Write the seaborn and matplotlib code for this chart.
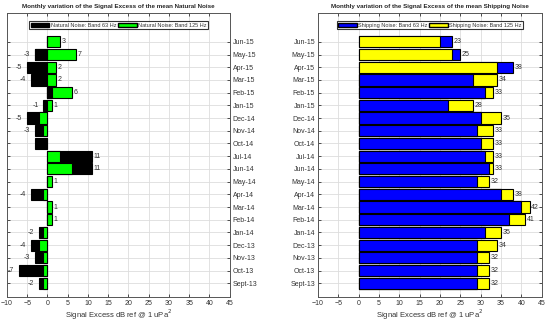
import numpy as np
import pandas as pd
import seaborn as sns
import matplotlib.pyplot as plt
from matplotlib.patches import Patch

# months listed top -> bottom as in the chart
months = ["Jun-15", "May-15", "Apr-15", "Mar-15", "Feb-15", "Jan-15", "Dec-14",
          "Nov-14", "Oct-14", "Jul-14", "Jun-14", "May-14", "Apr-14", "Mar-14",
          "Feb-14", "Jan-14", "Dec-13", "Nov-13", "Oct-13", "Sept-13"]

natural_63 = [0, -3, -5, -4, 1, -1, -5, -3, -3, 11, 11, 0, -4, 0, 0, -2, -4, -3, -7, -2]
natural_125 = [3, 7, 2, 2, 6, 1, -2, -1, 0, 3, 6, 1, -1, 1, 1, -1, -2, -1, -1, -1]
natural_lo_labels = [None, -3, -5, -4, None, -1, -5, -3, None, None, None, None, -4,
                     None, None, -2, -4, -3, -7, -2]
natural_hi_labels = [3, 7, 2, 2, 6, 1, None, None, None, 11, 11, 1, None, 1, 1,
                     None, None, None, None, None]

shipping_63 = [23, 25, 38, 28, 31, 22, 30, 29, 30, 31, 32, 29, 35, 40, 37, 31, 29, 29, 29, 29]
shipping_125 = [20, 23, 34, 34, 33, 28, 35, 33, 33, 33, 33, 32, 38, 42, 41, 35, 34, 32, 32, 32]
shipping_labels = [23, 25, 38, 34, 33, 28, 35, 33, 33, 33, 33, 32, 38, 42, 41, 35, 34, 32, 32, 32]

sns.set_style("whitegrid")
plt.rcParams['font.family'] = ['Liberation Sans', 'DejaVu Sans']

fig = plt.figure(figsize=(5.5, 3.23), dpi=100)
ax1 = fig.add_axes([0.0127, 0.0805, 0.405, 0.879])
ax2 = fig.add_axes([0.578, 0.0805, 0.407, 0.879])

text_col = "#333333"
bar_w = 0.88


def draw_panel(ax, v63, v125, c63, c125):
    df = pd.DataFrame({"month": months, "b63": v63, "b125": v125})
    kw = dict(y="month", order=months, orient="h", width=bar_w, edgecolor="black",
              linewidth=0.8, errorbar=None, ax=ax)
    sns.barplot(data=df, x="b63", color=c63, saturation=1, **kw)
    sns.barplot(data=df, x="b125", color=c125, saturation=1, **kw)
    # the shorter bar sits on top
    front = df[df["b63"].abs() < df["b125"].abs()]
    sns.barplot(data=front, x="b63", color=c63, saturation=1, **kw)


def style_axes(ax, title, ticks_right):
    ax.set_xlim(-10, 45)
    ax.set_ylim(20.08, -2.26)
    ax.set_xticks(np.arange(-10, 46, 5))
    ax.set_axisbelow(True)
    ax.grid(True, color="#dddddd", linewidth=0.6)
    ax.tick_params(axis="both", direction="in", length=2.5, width=0.6,
                   labelsize=5, colors=text_col, top=True, bottom=True,
                   left=True, right=True, pad=2)
    if ticks_right:
        ax.yaxis.tick_right()
        ax.tick_params(axis="y", left=True, right=True, direction="in", length=2.5)
    for s in ax.spines.values():
        s.set_color("#555555")
        s.set_linewidth(0.7)
    ax.set_ylabel("")
    ax.set_xlabel("Signal Excess dB ref @ 1 uPa$^2$", fontsize=5.5, color=text_col, labelpad=0.8)
    ax.set_title(title, fontsize=4.5, fontweight="bold", pad=3.5)


draw_panel(ax1, natural_63, natural_125, "black", "#00ff00")
draw_panel(ax2, shipping_63, shipping_125, "#0000ff", "#ffff00")

for i, (lo, hi) in enumerate(zip(natural_lo_labels, natural_hi_labels)):
    if lo is not None:
        ax1.text(lo - 1.2, i, str(lo), ha="right", va="center", fontsize=5, color=text_col)
    if hi is not None:
        ax1.text(hi + 0.4, i, str(hi), ha="left", va="center", fontsize=5, color=text_col)

for i, lab in enumerate(shipping_labels):
    top = max(shipping_63[i], shipping_125[i])
    ax2.text(top + 0.4, i, str(lab), ha="left", va="center", fontsize=5, color=text_col)

style_axes(ax1, "Monthly variation of the Signal Excess of the mean Natural Noise", True)
style_axes(ax2, "Monthly variation of the Signal Excess of the mean Shipping Noise", False)

leg_kw = dict(loc="upper center", bbox_to_anchor=(0.5, 0.975), ncol=2, fontsize=4.0,
              frameon=True, fancybox=False, edgecolor="black", handlelength=3.4,
              handleheight=0.9, columnspacing=0.3, handletextpad=0.2, borderpad=0.25,
              borderaxespad=0.2)
l1 = ax1.legend(handles=[Patch(facecolor="black", edgecolor="black", label="Natural Noise: Band 63 Hz"),
                         Patch(facecolor="#00ff00", edgecolor="black", label="Natural Noise: Band 125 Hz")],
                **leg_kw)
l2 = ax2.legend(handles=[Patch(facecolor="#0000ff", edgecolor="black", label="Shipping Noise: Band 63 Hz"),
                         Patch(facecolor="#ffff00", edgecolor="black", label="Shipping Noise: Band 125 Hz")],
                **leg_kw)
for leg in (l1, l2):
    leg.get_frame().set_linewidth(0.8)
    for t in leg.get_texts():
        t.set_color(text_col)

fig.savefig("out.png", dpi=100)
